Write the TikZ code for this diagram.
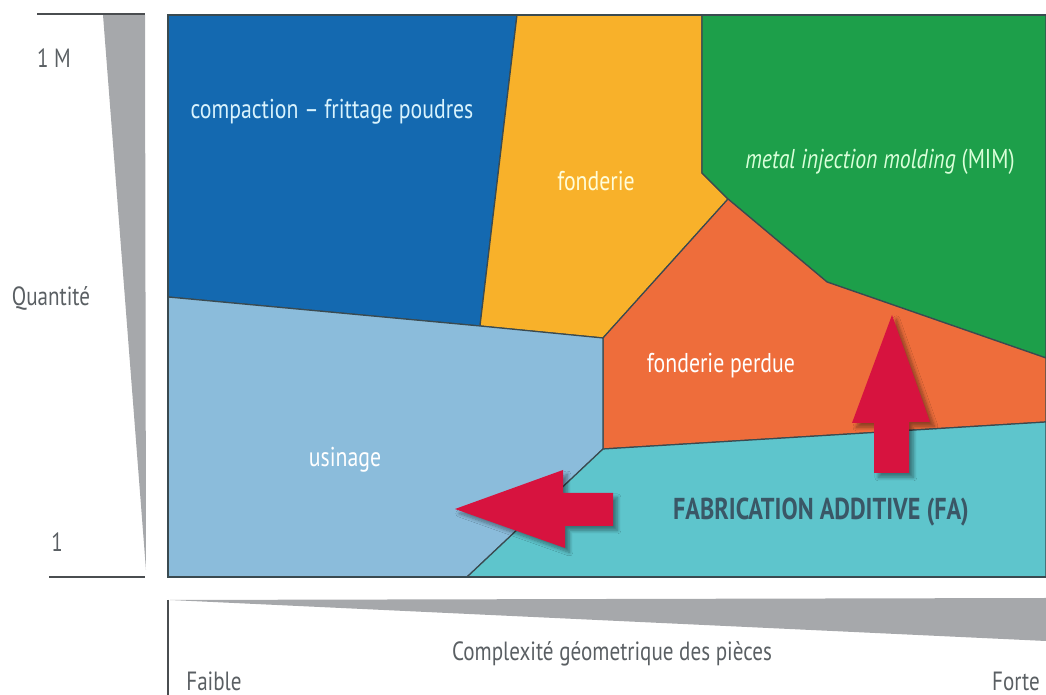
\documentclass[tikz,border=0pt]{standalone}
\usepackage{fontspec}
\setmainfont{PT Sans}[FakeStretch=0.80]
\usepackage{tikz}
\usetikzlibrary{shadows.blur}
\definecolor{zblue}{HTML}{1469B0}
\definecolor{zyellow}{HTML}{F8B12A}
\definecolor{zgreen}{HTML}{1D9F4A}
\definecolor{zorange}{HTML}{EE6D3B}
\definecolor{zlight}{HTML}{8BBCDB}
\definecolor{zteal}{HTML}{5EC5CC}
\definecolor{zred}{HTML}{D7133F}
\definecolor{wedgegray}{HTML}{A6A8AB}
\definecolor{axisgray}{HTML}{4A4D50}
\definecolor{labelgray}{HTML}{5A5F63}
\definecolor{edgegray}{HTML}{3A4A50}
\definecolor{faslate}{HTML}{3A5766}
\begin{document}
\begin{tikzpicture}
      [x=0.02cm,y=-0.02cm,
       zone/.style={draw=edgegray,line width=0.7pt,line join=round},
       zonetext/.style={font=\fontsize{15.5}{17}\selectfont,inner sep=0pt},
       axistext/.style={font=\fontsize{15}{17}\selectfont,text=labelgray,inner sep=0pt},
       redarrow/.style={fill=zred,draw=none,blur shadow={shadow xshift=2.5pt,shadow yshift=-2.5pt,shadow opacity=40,shadow blur steps=8}}]
      \useasboundingbox (0,0) rectangle (1046,695);
      % zones
      \filldraw[zone,fill=zblue] (168,15) -- (517,15) -- (480,326) -- (168,297) -- cycle;
      \filldraw[zone,fill=zyellow] (517,15) -- (702,15) -- (702,173) -- (728,199) -- (603,338) -- (480,326) -- cycle;
      \filldraw[zone,fill=zgreen] (702,15) -- (1046,15) -- (1046,358) -- (827,282) -- (728,199) -- (702,173) -- cycle;
      \filldraw[zone,fill=zorange] (728,199) -- (827,282) -- (1046,358) -- (1046,422) -- (603,449) -- (603,338) -- cycle;
      \filldraw[zone,fill=zlight] (168,297) -- (480,326) -- (603,338) -- (603,449) -- (467,577) -- (168,577) -- cycle;
      \filldraw[zone,fill=zteal] (603,449) -- (1046,422) -- (1046,577) -- (467,577) -- cycle;
      \draw[edgegray,line width=1.2pt] (1046,15) -- (168,15) -- (168,577) -- (1046,577);
      % arrows
      \path[redarrow] (455,509) -- (563,470) -- (563,493) -- (613,493) -- (613,526) -- (565,526) -- (565,548) -- cycle;
      \path[redarrow] (892,315) -- (930,422) -- (909,422) -- (909,473) -- (874,473) -- (874,423) -- (852,423) -- cycle;
      % zone labels
      \node[zonetext,text=white!85!cyan] (compaction) at (332,112) {compaction -- frittage poudres};
      \node[zonetext,text=white!85!yellow] (fonderie) at (596,181) {fonderie};
      \node[zonetext,text=white!85!green] (mim) at (880,162) {\textit{metal injection molding} (MIM)};
      \node[zonetext,text=white] (perdue) at (721,366) {fonderie perdue};
      \node[zonetext,text=white] (usinage) at (345,460) {usinage};
      \node[font=\fontsize{17.2}{19}\selectfont\bfseries,text=faslate,inner sep=0pt] (fa) at (821,512) {FABRICATION ADDITIVE (FA)};
      % quantity axis
      \fill[wedgegray] (103,15) -- (145,15) -- (146,570) -- cycle;
      \draw[axisgray,line width=1.1pt] (37,14) -- (145,14);
      \draw[axisgray,line width=1.1pt] (49,577) -- (145,577);
      \node[axistext] (qmax) at (54,58) {1 M};
      \node[axistext] (quantite) at (51,298) {Quantité};
      \node[axistext] (qmin) at (57,542) {1};
      % complexity axis
      \fill[wedgegray] (170,600) -- (1046,598) -- (1046,641) -- cycle;
      \draw[axisgray,line width=1.1pt] (168,600) -- (168,695);
      \node[axistext] (complexite) at (612,654) {Complexité géometrique des pièces};
      \node[axistext,anchor=west] (faible) at (186,681) {Faible};
      \node[axistext] (forte) at (1016,681) {Forte};
    \end{tikzpicture}
\end{document}
